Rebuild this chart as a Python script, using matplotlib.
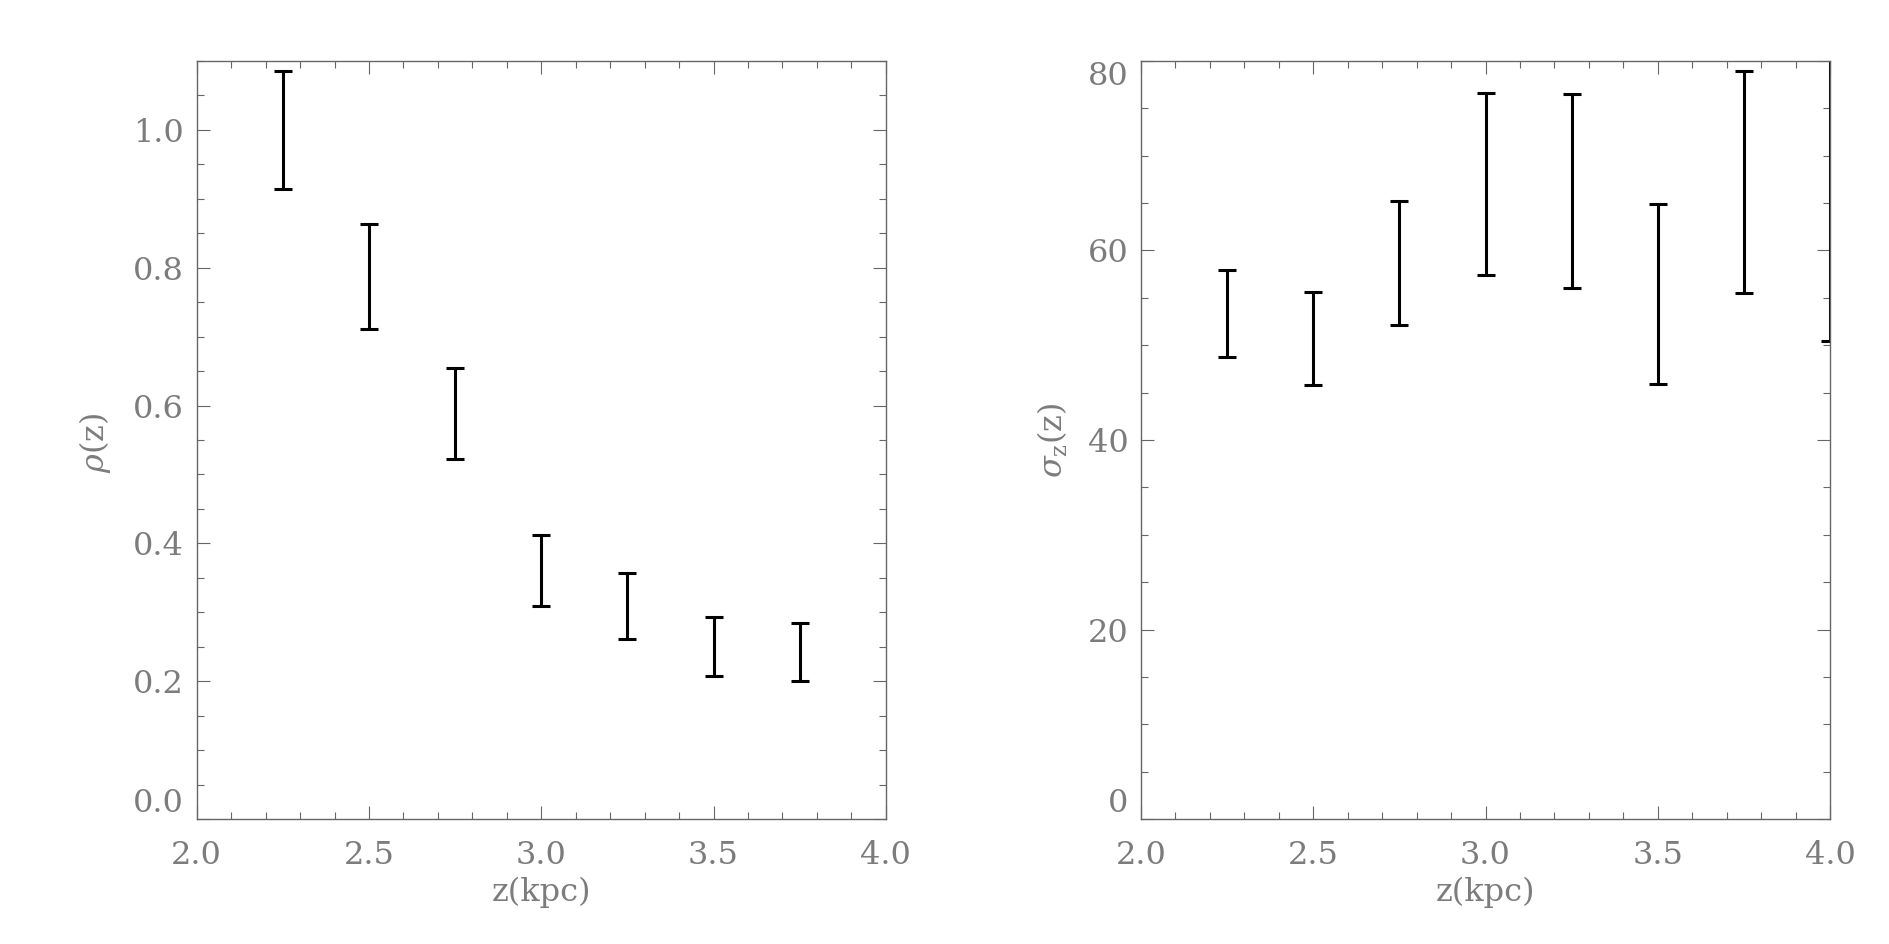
import numpy as np
import matplotlib
matplotlib.use("Agg")
import matplotlib.pyplot as plt
from matplotlib.ticker import MultipleLocator, FormatStrFormatter

# ---- data ----
z_rho = [2.25, 2.50, 2.75, 3.00, 3.25, 3.50, 3.75]
rho_lo = [0.914, 0.711, 0.5225, 0.309, 0.261, 0.207, 0.200]
rho_hi = [1.086, 0.864, 0.654, 0.412, 0.357, 0.293, 0.284]

z_sig = [2.25, 2.50, 2.75, 3.00, 3.25, 3.50, 3.75, 4.00]
sig_lo = [48.8, 45.8, 52.1, 57.4, 56.0, 45.9, 55.5, 50.4]
sig_hi = [57.9, 55.6, 65.2, 76.6, 76.5, 64.9, 78.9, 86.0]

x_ticks = [2.0, 2.5, 3.0, 3.5, 4.0]
rho_ticks = [0.0, 0.2, 0.4, 0.6, 0.8, 1.0]
sig_ticks = [0, 20, 40, 60, 80]

# ---- style ----
plt.rcParams['font.family'] = ['DejaVu Serif']
plt.rcParams['mathtext.fontset'] = 'dejavuserif'
TXT = '#7c7c7c'
AX = '#666666'
FS = 23

fig = plt.figure(figsize=(18.9, 9.44), dpi=100)
ax1 = fig.add_axes([0.1041, 0.1324, 0.3646, 0.8030])
ax2 = fig.add_axes([0.6037, 0.1324, 0.3646, 0.8030])


def style(ax, ymajor, yminor, yfmt):
    for s in ax.spines.values():
        s.set_color(AX)
        s.set_linewidth(1.0)
    ax.set_xlim(2.0, 4.0)
    ax.xaxis.set_major_locator(MultipleLocator(0.5))
    ax.xaxis.set_minor_locator(MultipleLocator(0.1))
    ax.xaxis.set_major_formatter(FormatStrFormatter('%.1f'))
    ax.yaxis.set_major_locator(MultipleLocator(ymajor))
    ax.yaxis.set_minor_locator(MultipleLocator(yminor))
    ax.yaxis.set_major_formatter(FormatStrFormatter(yfmt))
    ax.tick_params(which='both', direction='in', top=True, right=True,
                   color=AX, width=0.8, labelcolor=TXT, labelsize=FS)
    ax.tick_params(which='major', length=9.5)
    ax.tick_params(which='minor', length=5)
    ax.tick_params(axis='x', which='major', pad=15)
    ax.tick_params(axis='y', which='major', pad=9)
    ax.set_xlabel('z(kpc)', color=TXT, fontsize=FS, labelpad=4)


# left panel
c1 = (np.array(rho_lo) + np.array(rho_hi)) / 2
e1 = (np.array(rho_hi) - np.array(rho_lo)) / 2
ax1.errorbar(z_rho, c1, yerr=e1, fmt='none', ecolor='black',
             elinewidth=2.2, capsize=6.8, capthick=2.2)
style(ax1, 0.2, 0.05, '%.1f')
ax1.set_ylim(0, 1.1)
ax1.set_xticks(x_ticks)
ax1.set_yticks(rho_ticks)
ax1.set_ylabel(r'$\rho$(z)', color=TXT, fontsize=FS, va='center')
ax1.yaxis.set_label_coords(-0.147, 0.496)

# right panel
c2 = (np.array(sig_lo) + np.array(sig_hi)) / 2
e2 = (np.array(sig_hi) - np.array(sig_lo)) / 2
ax2.errorbar(z_sig, c2, yerr=e2, fmt='none', ecolor='black',
             elinewidth=2.2, capsize=6.8, capthick=2.2)
style(ax2, 20, 5, '%d')
ax2.set_ylim(0, 80)
ax2.set_xticks(x_ticks)
ax2.set_yticks(sig_ticks)
ax2.set_ylabel(r'$\sigma_{\rm z}$(z)', color=TXT, fontsize=FS, va='center')
ax2.yaxis.set_label_coords(-0.128, 0.50)

fig.canvas.draw()
# IDL-style: end labels shifted inward
lbl1 = ax1.yaxis.get_majorticklabels()
lbl1[0].set_verticalalignment('bottom')
lbl2 = ax2.yaxis.get_majorticklabels()
lbl2[0].set_verticalalignment('bottom')
lbl2[-1].set_verticalalignment('top')

fig.savefig('out.png', dpi=100)
